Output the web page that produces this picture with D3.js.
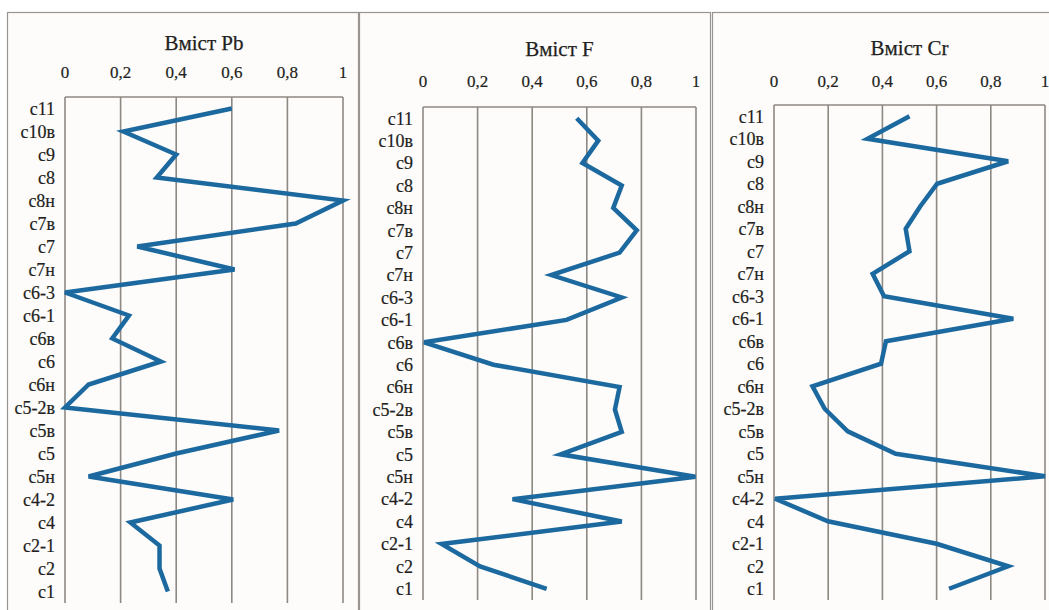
<!DOCTYPE html>
<html>
<head>
<meta charset="utf-8">
<script src="https://cdn.jsdelivr.net/npm/d3@7"></script>
<style>
  html, body { margin: 0; padding: 0; background: #ffffff; }
  svg { display: block; }
</style>
</head>
<body>
<svg id="chart" width="1049" height="610"></svg>
<script>
// ---- data ----
const categories = ["c11","c10в","c9","c8","c8н","c7в","c7","c7н","c6-3","c6-1","c6в","c6","c6н","c5-2в","c5в","c5","c5н","c4-2","c4","c2-1","c2","c1"];
const pbValues = [0.60,0.21,0.40,0.33,1.00,0.83,0.26,0.61,0.00,0.23,0.17,0.345,0.085,0.00,0.77,0.40,0.085,0.605,0.235,0.34,0.34,0.37];
const fValues  = [0.563,0.642,0.584,0.728,0.697,0.783,0.72,0.47,0.728,0.526,0.004,0.258,0.72,0.703,0.728,0.504,0.998,0.328,0.728,0.068,0.209,0.453];
const crValues = [0.50,0.345,0.864,0.602,0.54,0.486,0.50,0.364,0.406,0.883,0.413,0.395,0.142,0.187,0.272,0.449,1.00,0.004,0.199,0.60,0.864,0.646];
const titles = ["Вміст Pb","Вміст F","Вміст Cr"];
const tickValues = [0,0.2,0.4,0.6,0.8,1];
const tickLabels = ["0","0,2","0,4","0,6","0,8","1"];

// ---- layout ----
const FONT = "Liberation Serif";
const panels = [
  {values: pbValues, title: titles[0], box:[7,12,358,640],  x0:65,  x1:343,  top:97,  bottom:603, titleY:50, tickY:78},
  {values: fValues,  title: titles[1], box:[359,12,710,640], x0:423, x1:696,  top:107, bottom:600, titleY:56, tickY:87},
  {values: crValues, title: titles[2], box:[712,12,1060,640],x0:774, x1:1045, top:105, bottom:600, titleY:55, tickY:87}
];

const svg = d3.select("#chart");

panels.forEach(p => {
  const g = svg.append("g");
  g.append("rect")
    .attr("x", p.box[0] + 0.5).attr("y", p.box[1] + 0.5)
    .attr("width", p.box[2] - p.box[0]).attr("height", p.box[3] - p.box[1])
    .attr("fill", "#fdfcfb").attr("stroke", "#9a9490").attr("stroke-width", 1.2);

  const x = d3.scaleLinear().domain([0, 1]).range([p.x0, p.x1]);
  const y = d3.scaleBand().domain(categories).range([p.top, p.bottom]);
  const yc = d => y(d) + y.bandwidth() / 2;

  g.append("text")
    .attr("x", (p.x0 + p.x1) / 2).attr("y", p.titleY)
    .attr("text-anchor", "middle")
    .attr("font-family", FONT).attr("font-size", 21).attr("fill", "#231f20")
    .attr("stroke", "#231f20").attr("stroke-width", 0.25)
    .text(p.title);

  g.selectAll(".tick").data(tickValues).enter().append("text")
    .attr("x", d => x(d)).attr("y", p.tickY)
    .attr("text-anchor", "middle")
    .attr("font-family", FONT).attr("font-size", 17).attr("fill", "#231f20")
    .attr("stroke", "#231f20").attr("stroke-width", 0.2)
    .text((d, i) => tickLabels[i]);

  g.selectAll(".grid").data(tickValues).enter().append("line")
    .attr("x1", d => x(d)).attr("x2", d => x(d))
    .attr("y1", p.top).attr("y2", p.bottom)
    .attr("stroke", "#8e8883").attr("stroke-width", 1.6);

  g.append("line")
    .attr("x1", p.x0).attr("x2", p.x1)
    .attr("y1", p.top).attr("y2", p.top)
    .attr("stroke", "#8e8883").attr("stroke-width", 1.6);

  g.selectAll(".cat").data(categories).enter().append("text")
    .attr("x", p.x0 - 10).attr("y", d => yc(d))
    .attr("dy", "0.35em")
    .attr("text-anchor", "end")
    .attr("font-family", FONT).attr("font-size", 18).attr("fill", "#231f20")
    .attr("stroke", "#231f20").attr("stroke-width", 0.2)
    .text(d => d);

  const line = d3.line()
    .x(d => x(d))
    .y((d, i) => yc(categories[i]));
  g.append("path")
    .datum(p.values)
    .attr("d", line)
    .attr("fill", "none")
    .attr("stroke", "#1c699f")
    .attr("stroke-width", 4.5)
    .attr("stroke-linejoin", "miter");
});
</script>
</body>
</html>
